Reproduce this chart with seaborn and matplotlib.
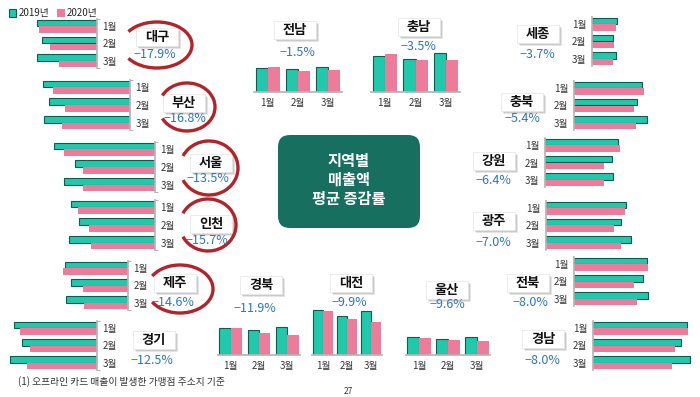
import matplotlib
matplotlib.use("Agg")
import matplotlib.pyplot as plt
from matplotlib.patches import FancyBboxPatch, Rectangle, Arc, Patch
from matplotlib.transforms import Affine2D
import seaborn as sns
import pandas as pd

# ---- data ----
MONTHS = ['1월', '2월', '3월']
YEARS = ['2019년', '2020년']
REGIONS = ['대구', '부산', '서울', '인천', '제주', '경기',
           '세종', '충북', '강원', '광주', '전북', '경남',
           '전남', '충남', '경북', '대전', '울산']
CHANGE = ['−17.9%', '−16.8%', '−13.5%', '−15.7%', '−14.6%', '−12.5%',
          '−3.7%', '−5.4%', '−6.4%', '−7.0%', '−8.0%', '−8.0%',
          '−1.5%', '−3.5%', '−11.9%', '−9.9%', '−9.6%']
SALES_2019 = [[60, 55, 60], [87, 81, 86], [101, 80, 91], [84, 76, 86], [63, 57, 62], [83, 75, 87],
              [25, 21, 24], [68, 63, 73], [73, 67, 68], [80, 75, 85], [73, 69, 74], [94, 88, 97],
              [24, 23, 25], [36, 33, 39], [27, 25, 28], [45, 39, 44], [18, 16, 18]]
SALES_2020 = [[58, 47, 38], [77, 65, 68], [91, 72, 72], [77, 66, 64], [65, 45, 44], [77, 67, 70],
              [24, 22, 21], [70, 60, 62], [75, 59, 59], [79, 68, 75], [74, 60, 63], [95, 82, 79],
              [25, 21, 22], [38, 32, 32], [27, 22, 20], [44, 36, 33], [17, 15, 14]]
CIRCLED = ['대구', '부산', '서울', '인천', '제주']

# ---- layout (pixels, y from top) ----
# L/R: (kind, spine x, top y, bottom y); V: (kind, left x, right x, baseline y)
LAYOUT = {
    '대구': ('L', 97, 19, 68), '부산': ('L', 130, 80, 130), '서울': ('L', 155, 142, 192),
    '인천': ('L', 155, 200, 250), '제주': ('L', 128, 261, 310), '경기': ('L', 97, 321, 370),
    '세종': ('R', 592, 17, 66), '충북': ('R', 574, 81, 130), '강원': ('R', 545, 138, 187),
    '광주': ('R', 546, 201, 250), '전북': ('R', 574, 257, 306), '경남': ('R', 593, 321, 370),
    '전남': ('V', 254, 342, 92), '충남': ('V', 371, 460, 92), '경북': ('V', 218, 300, 355),
    '대전': ('V', 312, 382, 355), '울산': ('V', 406, 490, 355),
}
# box centre x, y, value centre x, y
LABEL_POS = {
    '대구': (157, 37, 155, 54), '부산': (184, 103, 185, 118), '서울': (211, 163, 208, 178),
    '인천': (211, 224, 207, 241), '제주': (175, 283, 173, 302), '경기': (154, 340, 152, 360),
    '세종': (538, 34, 537, 55), '충북': (522, 102, 522, 118), '강원': (494, 161, 493, 180),
    '광주': (494, 221, 493, 242), '전북': (528, 283, 530, 302), '경남': (543, 339, 542, 360),
    '전남': (295, 30, 297, 52), '충남': (419, 27, 418, 47), '경북': (261, 285, 255, 308),
    '대전': (351, 283, 349, 302), '울산': (447, 290, 447, 305),
}
ELLIPSE = {'대구': (157, 45, 70, 46), '부산': (187, 107, 56, 48), '서울': (209, 168, 58, 54),
           '인천': (208, 225, 56, 52), '제주': (180, 289, 66, 48)}

TEAL, TEAL_EDGE, PINK = '#20C9AC', '#0F5C4E', '#EF7B9B'
SPINE = '#b5b5b5'
BLUE = '#2E75B6'
RED = '#B3232A'

sns.set_theme(style='white')
plt.rcParams['font.family'] = ['Noto Sans CJK KR', 'DejaVu Sans']

W, H = 700, 397
fig = plt.figure(figsize=(7, 3.97), dpi=100, facecolor='white')
PX = Affine2D().scale(1, -1).translate(0, H)


def px_axes(x0, y0, x1, y1):
    return fig.add_axes([x0 / W, 1 - y1 / H, (x1 - x0) / W, (y1 - y0) / H])


for i, name in enumerate(REGIONS):
    vals = SALES_2019[i] + SALES_2020[i]
    df = pd.DataFrame({'month': MONTHS * 2, 'year': [YEARS[0]] * 3 + [YEARS[1]] * 3, 'sales': vals})
    kind, a, b, c = LAYOUT[name]
    top = max(vals) + 4
    if kind == 'L':
        ax = px_axes(a - top, b, a, c)
    elif kind == 'R':
        ax = px_axes(a, b, a + top, c)
    else:
        ax = px_axes(a, c - top, b, c)
    ax.patch.set_alpha(0)

    if kind in 'LR':
        sns.barplot(df, x='sales', y='month', hue='year', orient='h', palette=[TEAL, PINK],
                    width=0.75, saturation=1, errorbar=None, legend=False, ax=ax)
        ax.set_ylim(2.42, -0.42)
        ax.set_xticks([])
        for s in ax.spines.values():
            s.set_visible(False)
        if kind == 'L':
            ax.set_xlim(top, 0)
            ax.yaxis.tick_right()
            ax.spines['right'].set_visible(True)
            ax.spines['right'].set_color(SPINE)
        else:
            ax.set_xlim(0, top)
            ax.spines['left'].set_visible(True)
            ax.spines['left'].set_color(SPINE)
        ax.set_yticks([-0.42, 2.42], minor=True)
        ax.tick_params(axis='y', which='major', length=0, pad=4, labelsize=7, labelcolor='#333333')
        ax.tick_params(axis='y', which='minor', length=2.5, color=SPINE, width=0.8)
    else:
        sns.barplot(df, x='month', y='sales', hue='year', palette=[TEAL, PINK],
                    width=0.8, saturation=1, errorbar=None, legend=False, ax=ax)
        ax.set_ylim(0, top)
        ax.set_xlim(-0.45, 2.45)
        ax.set_yticks([])
        for s in ax.spines.values():
            s.set_visible(False)
        ax.spines['bottom'].set_visible(True)
        ax.spines['bottom'].set_color(SPINE)
        ax.set_xticks([-0.45, 2.45], minor=True)
        ax.tick_params(axis='x', which='major', length=0, pad=4, labelsize=7, labelcolor='#333333')
        ax.tick_params(axis='x', which='minor', length=2.5, color=SPINE, width=0.8)
    ax.set_xlabel('')
    ax.set_ylabel('')
    for bar in ax.containers[0]:
        bar.set_edgecolor(TEAL_EDGE)
        bar.set_linewidth(0.8)
    for bar in ax.containers[1]:
        bar.set_linewidth(0)

    # name box with shadow + change rate
    bx, by, vx, vy = LABEL_POS[name]
    bw, bh = 42, 18
    for off, al in [(3, 0.25), (2, 0.35)]:
        fig.add_artist(Rectangle((bx - bw / 2 + off, by - bh / 2 + off), bw, bh, transform=PX,
                                 facecolor='#9a9a9a', edgecolor='none', alpha=al))
    fig.add_artist(Rectangle((bx - bw / 2, by - bh / 2), bw, bh, transform=PX,
                             facecolor='white', edgecolor='#e4e4e4', linewidth=0.5))
    fig.text(bx, by, name, transform=PX, ha='center', va='center', fontsize=9.5,
             fontweight='bold', color='#111111')
    fig.text(vx, vy, CHANGE[i], transform=PX, ha='center', va='center', fontsize=9, color=BLUE)

    if name in CIRCLED:
        ex, ey, ew, eh = ELLIPSE[name]
        fig.add_artist(Arc((ex, ey), ew, eh, theta1=205, theta2=515, transform=PX,
                           color=RED, linewidth=2.4))

# centre title box
fig.add_artist(FancyBboxPatch((278, 135), 142, 93, boxstyle='round,pad=0,rounding_size=12',
                              transform=PX, facecolor='#17705F', edgecolor='none'))
for k, line in enumerate(['지역별', '매출액', '평균 증감률']):
    fig.text(349, 161 + k * 19, line, transform=PX, ha='center', va='center',
             fontsize=11, fontweight='bold', color='white')

# legend
handles = [Patch(facecolor=TEAL, edgecolor=TEAL_EDGE, linewidth=0.8, label=YEARS[0]),
           Patch(facecolor=PINK, edgecolor='none', label=YEARS[1])]
fig.legend(handles=handles, loc='upper left', bbox_to_anchor=(0.004, 0.994), ncol=2, frameon=False,
           fontsize=7, handlelength=0.8, handleheight=0.8, handletextpad=0.2, columnspacing=0.8,
           borderaxespad=0.2)

fig.text(18, 382, '(1) 오프라인 카드 매출이 발생한 가맹점 주소지 기준', transform=PX,
         ha='left', va='center', fontsize=7, color='#333333')
fig.text(348, 391, '27', transform=PX, ha='center', va='center', fontsize=6, color='#333333')

fig.savefig('out.png', dpi=100, facecolor='white')
